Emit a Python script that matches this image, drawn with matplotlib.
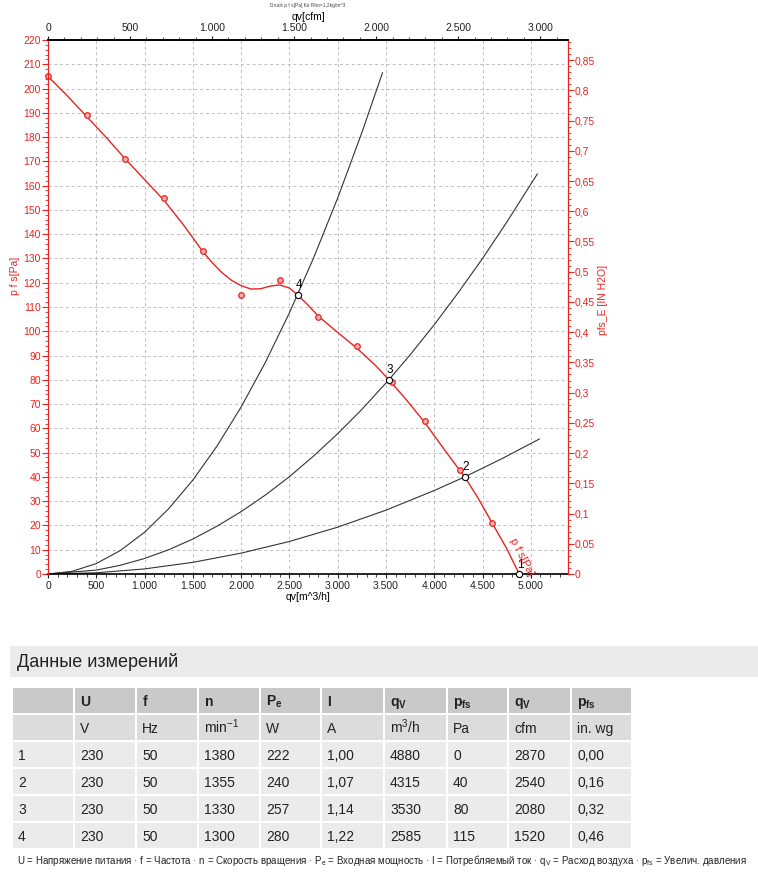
import matplotlib
matplotlib.use('Agg')
from matplotlib import pyplot as plt
from matplotlib.ticker import MultipleLocator, FuncFormatter
from matplotlib.patches import Rectangle

# Kennlinie p_fs(q_v)
curve_q = [0, 200, 400, 600, 800, 1000, 1200, 1400, 1600, 1700, 1800, 1900, 2000, 2100,
           2200, 2300, 2400, 2500, 2585, 2700, 2800, 3000, 3200, 3400, 3530, 3700, 3900,
           4100, 4315, 4450, 4600, 4750, 4880]
curve_p = [205, 197, 188.5, 180, 171, 162.5, 154, 144, 133, 128.3, 124.2, 121, 118.8, 117.4,
           117.5, 118.6, 119.1, 117.8, 115, 110.5, 106.2, 99.5, 93, 85.6, 80, 72.3, 62.5,
           51.5, 40, 31.5, 21, 10.5, 0]

# measured points (red circles)
meas_q = [0, 400, 800, 1200, 1600, 2000, 2400, 2800, 3200, 3560, 3900, 4270, 4600]
meas_p = [205, 189, 171, 155, 133, 115, 121, 106, 94, 79, 63, 43, 21]

# system curves (black)
sys4_q = [0, 250, 500, 750, 1000, 1250, 1500, 1750, 2000, 2250, 2500, 2750, 3000, 3250, 3464]
sys4_p = [0, 1.1, 4.3, 9.7, 17.2, 26.9, 38.7, 52.7, 68.8, 87.1, 107.6, 130.2, 154.9, 181.8, 206.5]
sys3_q = [0, 500, 750, 1000, 1250, 1500, 1750, 2000, 2250, 2500, 2750, 3000, 3250,
          3530, 3750, 4000, 4250, 4500, 4750, 5067]
sys3_p = [0, 1.6, 3.6, 6.4, 10.0, 14.4, 19.7, 25.7, 32.5, 40.1, 48.6, 57.8, 67.8,
          80, 90.3, 102.7, 116, 130, 144.9, 164.8]
sys2_q = [0, 500, 1000, 1500, 2000, 2500, 3000, 3500, 4000, 4315, 4700, 5088]
sys2_p = [0, 0.5, 2.1, 4.8, 8.6, 13.4, 19.3, 26.3, 34.4, 40, 47.5, 55.6]
sys1_q = [0, 4880]
sys1_p = [0, 0]

# operating points
op_q = [4880, 4315, 3530, 2585]
op_p = [0, 40, 80, 115]
op_lbl = ['1', '2', '3', '4']

# table
col_head = [r'$\mathbf{U}$', r'$\mathbf{f}$', r'$\mathbf{n}$', r'$\mathbf{P_e}$', r'$\mathbf{I}$',
            r'$\mathbf{q_V}$', r'$\mathbf{p_{fs}}$', r'$\mathbf{q_V}$', r'$\mathbf{p_{fs}}$']
col_unit = ['V', 'Hz', r'min$^{\mathrm{-1}}$', 'W', 'A', r'm$^\mathrm{3}$/h', 'Pa', 'cfm', 'in. wg']
rows = [
    ['1', '230', '50', '1380', '222', '1,00', '4880', '0', '2870', '0,00'],
    ['2', '230', '50', '1355', '240', '1,07', '4315', '40', '2540', '0,16'],
    ['3', '230', '50', '1330', '257', '1,14', '3530', '80', '2080', '0,32'],
    ['4', '230', '50', '1300', '280', '1,22', '2585', '115', '1520', '0,46'],
]

RED = '#e8231f'
W, H = 758, 874
XMAX = 5385
M3H_PER_CFM = 1.699
PA_PER_INH2O = 249.089

plt.rcParams['font.family'] = ['Liberation Sans', 'DejaVu Sans']
plt.rcParams['mathtext.fontset'] = 'custom'
plt.rcParams['mathtext.rm'] = 'Liberation Sans'
plt.rcParams['mathtext.it'] = 'Liberation Sans'
plt.rcParams['mathtext.bf'] = 'Liberation Sans:bold'

fig = plt.figure(figsize=(W / 100, H / 100), dpi=100)

# background axes in pixel coords for the table part
bg = fig.add_axes([0, 0, 1, 1], zorder=-1)
bg.set_xlim(0, W)
bg.set_ylim(H, 0)
bg.axis('off')

ax = fig.add_axes([48 / W, 1 - 574 / H, 520 / W, 534 / H])
ax.set_xlim(0, XMAX)
ax.set_ylim(0, 220)

ax.grid(True, which='major', color='#bdbdbd', linestyle=(0, (3, 3)), linewidth=0.7)

for qs, ps in [(sys4_q, sys4_p), (sys3_q, sys3_p), (sys2_q, sys2_p), (sys1_q, sys1_p)]:
    ax.plot(qs, ps, color='#333333', lw=0.8)

ax.plot(curve_q, curve_p, color=RED, lw=1.0, zorder=4, clip_on=False)
ax.plot(meas_q, meas_p, ls='none', marker='o', ms=4, mfc='#f4b0b0', mec=RED, mew=0.9,
        zorder=5, clip_on=False)

ax.plot(op_q, op_p, ls='none', marker='o', ms=4.5, mfc='white', mec='black', mew=0.8,
        zorder=6, clip_on=False)
for q, p, t in zip(op_q, op_p, op_lbl):
    ax.annotate(t, (q, p), xytext=(1, 2.5), textcoords='offset points',
                ha='center', va='bottom', fontsize=8.5, color='black', zorder=7)

ax.text(4905, 7, 'p f s[Pa]', color=RED, fontsize=8, rotation=-63,
        ha='center', va='center', rotation_mode='anchor', zorder=7)

def thousands(v, pos):
    v = int(round(v))
    if v >= 1000:
        return '%d.%03d' % (v // 1000, v % 1000)
    return str(v)

# bottom axis
ax.xaxis.set_major_locator(MultipleLocator(500))
ax.xaxis.set_minor_locator(MultipleLocator(100))
ax.xaxis.set_major_formatter(FuncFormatter(thousands))
ax.tick_params(axis='x', which='major', length=3, labelsize=7.5, colors='#222222', pad=2)
ax.tick_params(axis='x', which='minor', length=2, colors='#222222')
ax.set_xlabel('qv[m^3/h]', fontsize=7.5, labelpad=1)

# left axis
ax.yaxis.set_major_locator(MultipleLocator(10))
ax.yaxis.set_minor_locator(MultipleLocator(2))
ax.tick_params(axis='y', which='major', length=4, labelsize=7.5, colors=RED, pad=1)
ax.tick_params(axis='y', which='minor', length=2, colors=RED)
ax.set_ylabel('p f s[Pa]', color=RED, fontsize=7.5)
ax.yaxis.set_label_coords(-0.054, 0.558)

for s in ['left', 'right']:
    ax.spines[s].set_color(RED)
ax.spines['bottom'].set_linewidth(1.2)
ax.spines['top'].set_linewidth(1.2)

# right axis (in H2O)
axr = ax.twinx()
axr.set_ylim(0, 220 / PA_PER_INH2O)
axr.yaxis.set_major_locator(MultipleLocator(0.05))
axr.yaxis.set_minor_locator(MultipleLocator(0.01))
axr.yaxis.set_major_formatter(FuncFormatter(
    lambda v, pos: '0' if abs(v) < 1e-9 else ('%.2f' % v).replace('.', ',').rstrip('0')))
axr.tick_params(axis='y', which='major', length=4, labelsize=7.5, colors=RED, pad=1)
axr.tick_params(axis='y', which='minor', length=2, colors=RED)
axr.set_ylabel('pfs_E [IN H2O]', color=RED, fontsize=7.5)
axr.yaxis.set_label_coords(1.058, 0.513)
axr.spines['right'].set_color(RED)
axr.spines['left'].set_color(RED)
axr.spines['top'].set_visible(False)
axr.spines['bottom'].set_visible(False)

# top axis (cfm)
axt = ax.twiny()
axt.set_xlim(0, XMAX / M3H_PER_CFM)
axt.xaxis.set_major_locator(MultipleLocator(500))
axt.xaxis.set_minor_locator(MultipleLocator(100))
axt.xaxis.set_major_formatter(FuncFormatter(thousands))
axt.tick_params(axis='x', which='major', length=3, labelsize=7.5, colors='#222222', pad=2)
axt.tick_params(axis='x', which='minor', length=2, colors='#222222')
axt.set_xlabel('qv[cfm]', fontsize=7.5, labelpad=2)
axt.spines['top'].set_linewidth(1.2)
axt.spines['left'].set_visible(False)
axt.spines['right'].set_visible(False)
axt.spines['bottom'].set_visible(False)

fig.text(308 / W, 1 - 6 / H, 'Druck p f s[Pa] für Rho=1,2kg/m^3', fontsize=3.5,
         ha='center', va='center', color='#444444')

# ---- measurement table ----
bg.add_patch(Rectangle((10, 646), W - 10, 31, color='#ebebeb', lw=0))
bg.text(17, 662, 'Данные измерений', fontsize=13, va='center', ha='left', color='#222222')

col_edges = [12, 74, 136, 198, 260, 321, 384, 447, 508, 571, 632]
row_tops = [688, 715, 742, 769, 796, 823]
row_colors = ['#c9c9c9', '#dcdcdc', '#ebebeb', '#ebebeb', '#ebebeb', '#ebebeb']
row_h = 25

table_text = [[''] + col_head, [''] + col_unit] + rows
for r, top in enumerate(row_tops):
    for c in range(len(col_edges) - 1):
        x0 = col_edges[c] + 1
        x1 = col_edges[c + 1] - 1
        bg.add_patch(Rectangle((x0, top), x1 - x0, row_h, color=row_colors[r], lw=0))
        txt = table_text[r][c]
        if txt:
            bg.text(x0 + 5, top + 18, txt, fontsize=10, va='baseline', ha='left',
                    color='#222222')

footer = (r'U = Напряжение питания · f = Частота · n = Скорость вращения · '
          r'P$_\mathrm{e}$ = Входная мощность · I = Потребляемый ток · '
          r'q$_\mathrm{V}$ = Расход воздуха · p$_\mathrm{fs}$ = Увелич. давления')
bg.text(17, 864, footer, fontsize=7.0, va='baseline', ha='left', color='#222222')

plt.savefig('out.png', dpi=100)
